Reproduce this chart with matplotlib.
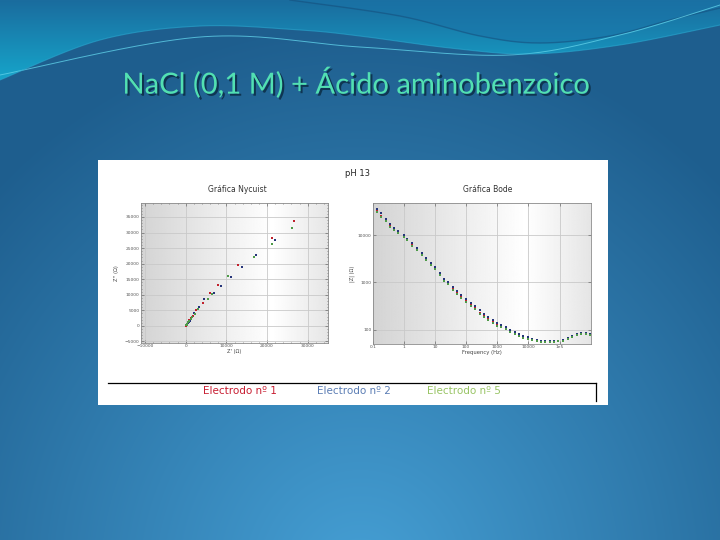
import numpy as np
import matplotlib
matplotlib.use("Agg")
import matplotlib.pyplot as plt
from matplotlib.patches import Rectangle, Polygon
from matplotlib.ticker import MultipleLocator, NullLocator
import matplotlib.patheffects as pe

# --- Nyquist data: Z' and Z'' (ohm) per electrode ---
nyq_re_1 = [0, 80, 180, 300, 450, 650, 900, 1250, 1700, 2450, 4150, 5930, 7890, 12930, 21140, 26670]
nyq_im_1 = [0, 150, 350, 600, 900, 1300, 1800, 2500, 3300, 5110, 7230, 10640, 13090, 19470, 28300, 33830]
nyq_re_2 = [150, 300, 480, 700, 950, 1250, 1600, 2030, 3250, 4470, 7070, 8780, 11140, 13820, 17400, 21870]
nyq_im_2 = [200, 500, 850, 1250, 1700, 2250, 2900, 4040, 5960, 8510, 10640, 12870, 15640, 18940, 22770, 27450]
nyq_re_5 = [100, 250, 420, 650, 900, 1200, 1550, 2200, 3000, 5530, 6420, 10330, 16830, 21140, 26180]
nyq_im_5 = [150, 400, 750, 1150, 1600, 2100, 2700, 3900, 5300, 8620, 10210, 16170, 22130, 26380, 31380]

# --- Bode data: |Z| (ohm) vs frequency (Hz) ---
bode_freq = [0.14, 0.19, 0.26, 0.36, 0.49, 0.66, 1.0, 1.3, 1.8, 2.6, 3.7, 5.1, 7.4, 10, 14, 19, 27,
             37, 51, 71, 100, 140, 190, 270, 370, 510, 740, 1000, 1350, 1860, 2630, 3630, 5010,
             6760, 9770, 13500, 18200, 25100, 33100, 47900, 66100, 91200, 132000, 182000,
             251000, 363000, 501000, 692000, 977000]
bode_z_1 = [33100, 25100, 20900, 15800, 13500, 11700, 9550, 8130, 6310, 5010, 3980, 3160, 2450, 2000,
            1480, 1120, 955, 741, 603, 501, 407, 331, 288, 229, 195, 166, 145, 129, 117, 107, 93, 85,
            78, 71, 66, 62, 59, 56, 55, 55, 56, 58, 60, 65, 72, 79, 85, 83, 79]
bode_z_2 = [36300, 28800, 22400, 17000, 14100, 12300, 10000, 8510, 6760, 5250, 4170, 3310, 2570, 2090,
            1550, 1200, 1020, 794, 646, 537, 437, 363, 316, 257, 219, 186, 162, 141, 126, 115, 100, 91,
            83, 75, 69, 64, 61, 58, 57, 57, 57, 59, 62, 67, 74, 81, 87, 86, 81]
bode_z_5 = [31600, 24000, 19500, 15100, 12900, 11200, 9120, 7760, 6030, 4790, 3800, 3020, 2340, 1910,
            1410, 1070, 912, 708, 575, 479, 389, 316, 275, 219, 186, 158, 138, 123, 112, 102, 89, 81,
            75, 68, 63, 60, 57, 55, 54, 54, 55, 57, 59, 64, 70, 77, 83, 82, 78]

legend_labels = ["Electrodo nº 1", "Electrodo nº 2", "Electrodo nº 5"]
point_colors = ["#c0202c", "#26357a", "#4e9a48"]
legend_colors = ["#c81e32", "#5b7db4", "#98c464"]

nyq_x_ticks = [-10000, 0, 10000, 20000, 30000]
nyq_y_ticks = [-5000, 0, 5000, 10000, 15000, 20000, 25000, 30000, 35000]
bode_x_ticks = [0.1, 1, 10, 100, 1000, 10000, 1e5]
bode_x_labels = ["0.1", "1", "10", "100", "1000", "10000", "1e5"]
bode_y_ticks = [100, 1000, 10000]
bode_y_labels = ["100", "1000", "10000"]


def smooth(pts, n=40):
    # catmull-rom through the given points, for the slide decoration
    pts = np.asarray(pts, float)
    p = np.vstack([pts[0], pts, pts[-1]])
    out = []
    for i in range(1, len(p) - 2):
        p0, p1, p2, p3 = p[i - 1], p[i], p[i + 1], p[i + 2]
        t = np.linspace(0, 1, n, endpoint=False)[:, None]
        out.append(0.5 * (2 * p1 + (-p0 + p2) * t + (2 * p0 - 5 * p1 + 4 * p2 - p3) * t ** 2
                          + (-p0 + 3 * p1 - 3 * p2 + p3) * t ** 3))
    out.append(p[-2][None])
    return np.vstack(out)


fig = plt.figure(figsize=(7.2, 5.4), dpi=100)

# slide background
bg = fig.add_axes([0, 0, 1, 1])
bg.set_xlim(0, 720)
bg.set_ylim(540, 0)
bg.axis("off")

yy, xx = np.mgrid[0:540, 0:720]
t = np.clip(np.hypot((xx - 360) / 520, (yy - 580) / 560), 0, 1)[..., None]
light = np.array([70, 160, 213]) / 255
dark = np.array([30, 94, 142]) / 255
bg.imshow(light * (1 - t) + dark * t, extent=[0, 720, 540, 0], aspect="auto", zorder=0)

# top wave band
hill = smooth([(0, 80), (100, 40), (200, 26), (300, 30), (360, 36), (450, 48),
               (530, 54), (620, 45), (720, 25)])
band_pts = np.vstack([[(0, 0), (720, 0)], hill[::-1]])
band = Polygon(band_pts, closed=True, facecolor="none", edgecolor="none")
bg.add_patch(band)
s = np.clip(yy / 75, 0, 1)[..., None]
c_top = np.array([26, 108, 158]) / 255
c_low = np.array([22, 162, 200]) / 255
im_band = bg.imshow(c_top * (1 - s) + c_low * s, extent=[0, 720, 540, 0], aspect="auto", zorder=1)
im_band.set_clip_path(band)

dark_wave = smooth([(290, 0), (400, 16), (480, 36), (540, 43), (610, 36), (670, 20), (720, 8)])
dw = Polygon(np.vstack([[(720, 0)], dark_wave]), closed=True, facecolor="#1a74a8",
             edgecolor="none", alpha=0.6, zorder=2)
bg.add_patch(dw)
bg.plot(dark_wave[:, 0], dark_wave[:, 1], color="#15507e", lw=1.0, alpha=0.6, zorder=2)

line_a = smooth([(0, 75), (200, 37), (360, 47), (510, 55), (620, 35), (720, 5)])
bg.plot(line_a[:, 0], line_a[:, 1], color="#5fd0e8", lw=0.7, alpha=0.8, zorder=2)
bg.plot(hill[:, 0], hill[:, 1], color="#2aa8d0", lw=0.8, alpha=0.6, zorder=2)

bg.text(356, 83, "NaCl (0,1 M) + Ácido aminobenzoico", fontsize=21, family="Lato",
        color="#52e0b2", ha="center", va="center", zorder=3,
        path_effects=[pe.withSimplePatchShadow(offset=(1.5, -1.5), shadow_rgbFace="#0a2a40", alpha=0.8)])

# pasted picture
bg.add_patch(Rectangle((98, 160), 510, 245, facecolor="white", edgecolor="none", zorder=3))
bg.text(345, 174, "pH 13", fontsize=6, color="#222222", ha="left", va="center", zorder=4)
bg.text(237, 190, "Gráfica Nycuist", fontsize=5.5, color="#333333", ha="center", va="center", zorder=4)
bg.text(488, 190, "Gráfica Bode", fontsize=5.5, color="#333333", ha="center", va="center", zorder=4)

bg.plot([108, 596], [383, 383], color="black", lw=0.9, zorder=4)
bg.plot([596, 596], [383, 401], color="black", lw=0.9, zorder=4)
for lab, col, xc in zip(legend_labels, legend_colors, [240, 353.5, 464]):
    bg.text(xc, 391.5, lab, fontsize=7.5, color=col, ha="center", va="center", zorder=4)


def grad_axes(rect):
    g = fig.add_axes(rect)
    prof = np.interp(np.linspace(0, 1, 300), [0, 0.7, 1], [0.83, 1.0, 0.9])
    g.imshow(prof[None, :], cmap="gray", vmin=0, vmax=1, aspect="auto", extent=[0, 1, 0, 1])
    g.axis("off")
    ax = fig.add_axes(rect)
    ax.set_facecolor("none")
    for sp in ax.spines.values():
        sp.set_color("#8a8a8a")
        sp.set_linewidth(0.6)
    ax.tick_params(which="both", direction="in", top=True, right=True, width=0.4,
                   labelsize=3.2, pad=1, colors="#555555")
    ax.tick_params(which="major", length=2)
    ax.tick_params(which="minor", length=1)
    ax.grid(True, color="#c9c9c9", lw=0.6)
    ax.set_axisbelow(True)
    return ax


# Nyquist
rect1 = [141 / 720, 1 - 343 / 540, 187 / 720, 140 / 540]
ax1 = grad_axes(rect1)
for re, im, col in zip([nyq_re_1, nyq_re_2, nyq_re_5], [nyq_im_1, nyq_im_2, nyq_im_5], point_colors):
    ax1.scatter(re, im, s=2, c=col, marker="s", linewidths=0, zorder=3)
ax1.set_xlim(-11000, 35000)
ax1.set_ylim(-5500, 39500)
ax1.set_xticks(nyq_x_ticks)
ax1.set_yticks(nyq_y_ticks)
ax1.xaxis.set_minor_locator(MultipleLocator(2000))
ax1.yaxis.set_minor_locator(MultipleLocator(1000))
ax1.set_xlabel("Z' (Ω)", fontsize=3.6, labelpad=0.5, color="#444444")
ax1.set_ylabel("Z'' (Ω)", fontsize=3.6, labelpad=4, color="#444444")

# Bode
rect2 = [372.7 / 720, 1 - 344 / 540, 218 / 720, 141 / 540]
ax2 = grad_axes(rect2)
for z, col in zip([bode_z_1, bode_z_2, bode_z_5], point_colors):
    ax2.scatter(bode_freq, z, s=1.8, c=col, marker="s", linewidths=0, zorder=3)
ax2.set_xscale("log")
ax2.set_yscale("log")
ax2.set_xlim(0.1, 1e6)
ax2.set_ylim(50, 48000)
ax2.set_xticks(bode_x_ticks)
ax2.set_xticklabels(bode_x_labels)
ax2.set_yticks(bode_y_ticks)
ax2.set_yticklabels(bode_y_labels)
ax2.xaxis.set_minor_locator(NullLocator())
ax2.yaxis.set_minor_locator(NullLocator())
ax2.set_xlabel("Frequency (Hz)", fontsize=3.8, labelpad=0.5, color="#444444")
ax2.set_ylabel("|Z| (Ω)", fontsize=3.6, labelpad=2, color="#444444")

fig.savefig("out.png", dpi=100)
